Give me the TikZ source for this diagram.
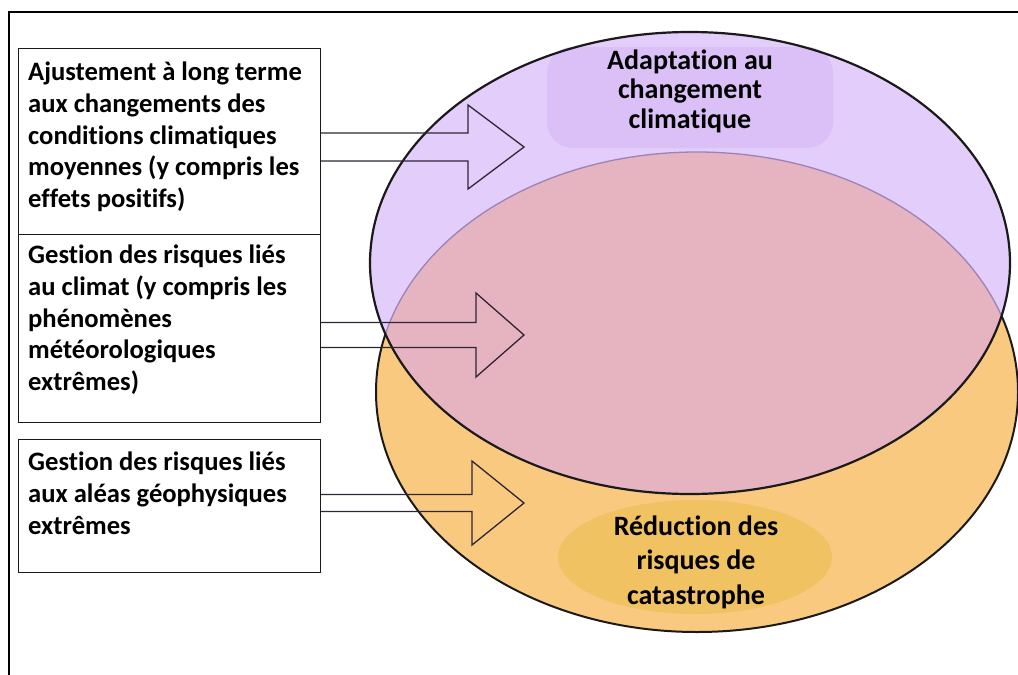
\documentclass[tikz,border=0pt]{standalone}
\usepackage{fontspec}
\setmainfont{Carlito}[Ligatures=NoCommon]
\usetikzlibrary{calc,positioning}
\definecolor{ink}{HTML}{1A1A1A}
\definecolor{arrink}{HTML}{2E2535}
\definecolor{ccafill}{HTML}{E3CDFA}
\definecolor{ccahl}{HTML}{DAC0F6}
\definecolor{overlap}{HTML}{E6B3C1}
\definecolor{drrfill}{HTML}{F9C97F}
\definecolor{drrhl}{HTML}{F0C262}
\definecolor{drredge}{HTML}{9C82B8}
\tikzset{
  riskbox/.style={draw=ink,fill=white,line width=1.2pt,inner sep=0pt,anchor=north west},
  boxtext/.style={anchor=north west,align=left,inner sep=0pt,
                  font=\fontsize{26.6}{31.7}\selectfont\bfseries},
  zonetext/.style={align=center,inner sep=0pt,font=\fontsize{28}{#1}\selectfont\bfseries},
  blockarr/.style n args={2}{draw=arrink,line width=1.3pt,line join=miter,
    to path={($(\tikztostart)+(0,-#1)$) -- ($(\tikztotarget)+(-#2,-#1)$)
      -- ($(\tikztotarget)+(-#2,-42)$) -- (\tikztotarget)
      -- ($(\tikztotarget)+(-#2,42)$) -- ($(\tikztotarget)+(-#2,#1)$)
      -- ($(\tikztostart)+(0,#1)$)}}
}
\begin{document}
\begin{tikzpicture}[x=1pt,y=-1pt]
  \useasboundingbox (0,0) rectangle (1018,675);
  \clip (0,0) rectangle (1018,675);
  \coordinate (cca) at (690,263);
  \coordinate (drr) at (697,392);

  % two zones
  \fill[drrfill] (drr) ellipse [x radius=321pt,y radius=240pt];
  \draw[ink,line width=2pt] (drr) ellipse [x radius=321pt,y radius=240pt];
  \fill[ccafill] (cca) ellipse [x radius=320pt,y radius=231pt];
  \begin{scope}
    \clip (cca) ellipse [x radius=320pt,y radius=231pt];
    \fill[overlap] (drr) ellipse [x radius=321pt,y radius=240pt];
    \draw[drredge,line width=1.3pt] (drr) ellipse [x radius=321pt,y radius=240pt];
  \end{scope}
  \fill[ccahl,rounded corners=26pt] (547,47) rectangle (833,148);
  \fill[drrhl] (695,557) ellipse [x radius=137pt,y radius=57pt];
  \draw[ink,line width=2.2pt] (cca) ellipse [x radius=320pt,y radius=231pt];

  \node[zonetext=29.5] (ccatxt) at (690,91) {Adaptation au\\changement\\climatique};
  \node[zonetext=34.5] (drrtxt) at (696,562) {Réduction des\\risques de\\catastrophe};

  % frame
  \draw[black,line width=2pt] (9,690) |- (1030,12);

  % left boxes
  \node[riskbox,minimum width=302pt,minimum height=186pt] (adj) at (18,48) {};
  \node[riskbox,minimum width=302pt,minimum height=188pt] (clim) at (18,234) {};
  \node[riskbox,minimum width=302pt,minimum height=133pt] (geo) at (18,439) {};

  \node[boxtext] (adjtxt) at ([shift={(10,14)}]adj.north west)
    {Ajustement à long terme\\aux changements des\\conditions climatiques\\moyennes (y compris les\\effets positifs)};
  \node[boxtext] (climtxt) at ([shift={(10,11)}]clim.north west)
    {Gestion des risques liés\\au climat (y compris les\\phénomènes\\météorologiques\\extrêmes)};
  \node[boxtext] (geotxt) at ([shift={(10,13)}]geo.north west)
    {Gestion des risques liés\\aux aléas géophysiques\\extrêmes};

  % block arrows into the zones
  \coordinate (tip1) at (524,147);
  \coordinate (tip2) at (524,335);
  \coordinate (tip3) at (524,503);
  \draw[blockarr={14}{56}] (adj.east |- tip1) to (tip1);
  \draw[blockarr={12.5}{48}] (clim.east |- tip2) to (tip2);
  \draw[blockarr={8.5}{52}] (geo.east |- tip3) to (tip3);
\end{tikzpicture}
\end{document}
